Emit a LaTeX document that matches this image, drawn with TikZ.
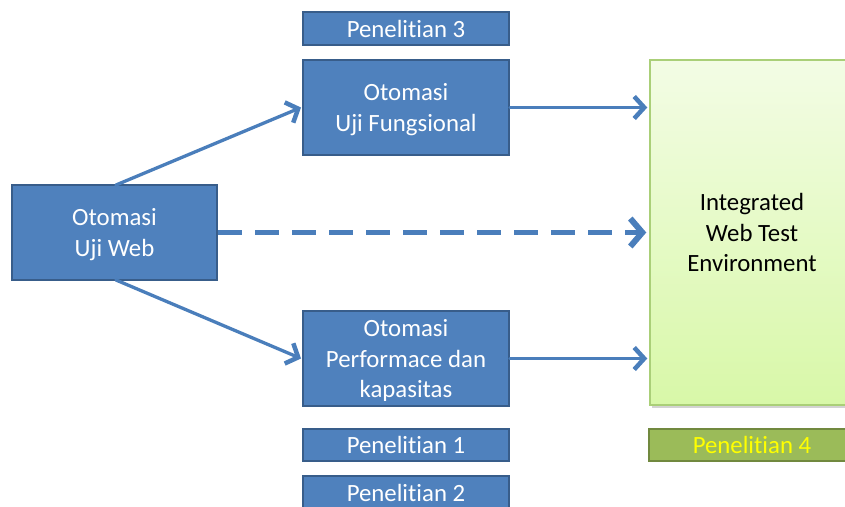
\documentclass[tikz,border=0pt]{standalone}
\usepackage{fontspec}
\setmainfont{Carlito}[RawFeature=-liga]
\usetikzlibrary{arrows.meta,shadows}
\definecolor{boxblue}{HTML}{4F81BD}
\definecolor{boxedge}{HTML}{385D8A}
\definecolor{arrowblue}{HTML}{4A7EBB}
\definecolor{envtop}{HTML}{F3FCE5}
\definecolor{envbot}{HTML}{D8F8A8}
\definecolor{envedge}{HTML}{AACF78}
\definecolor{olive}{HTML}{9BBB59}
\definecolor{oliveedge}{HTML}{71893F}
\tikzset{
  every node/.style={font=\fontsize{24.8}{30.5}\selectfont, align=center, inner sep=0pt},
  bluebox/.style={draw=boxedge, line width=2pt, fill=boxblue, text=white},
  tallbox/.style={bluebox, minimum width=206pt, minimum height=95pt, text depth=0pt},
  flow/.style={draw=arrowblue, line width=3.3pt, line cap=round, line join=round,
    -{Straight Barb[length=10pt,width=22pt,line width=4.5pt]}},
  dashflow/.style={draw=arrowblue, line width=5pt,
    dash pattern=on 24pt off 13pt,
    -{Straight Barb[length=12pt,width=28pt,line width=6pt]}}
}
\begin{document}
\begin{tikzpicture}[x=1pt,y=-1pt]
\useasboundingbox (0,0) rectangle (845,506);
\begin{scope}
\clip (0,0) rectangle (845,506);
% research boxes
\node[bluebox, minimum width=206pt, minimum height=33pt] (p3) at (406,28.5) {Penelitian 3};
\node[tallbox] (fung) at (406,107.5) {Otomasi\\Uji Fungsional};
\node[tallbox, minimum width=205pt] (web) at (114.5,232.5) {Otomasi\\Uji Web};
\node[tallbox] (perf) at (406,358.5) {Otomasi\\Performace dan\\kapasitas};
\node[bluebox, minimum width=206pt, minimum height=32pt] (p1) at (406,445) {Penelitian 1};
\node[bluebox, minimum width=206pt, minimum height=33pt] (p2) at (406,492.5) {Penelitian 2};
% integrated environment
\node[draw=envedge, line width=1.5pt, top color=envtop, bottom color=envbot,
      minimum width=204pt, minimum height=345pt, text depth=0pt,
      drop shadow={shadow xshift=2pt, shadow yshift=-3pt, opacity=0.35}] (env) at (752,232.5)
      {Integrated\\Web Test\\Environment};
\node[draw=oliveedge, line width=2.5pt, fill=olive, text={rgb,255:red,255;green,255;blue,0},
      minimum width=206pt, minimum height=32pt] (p4) at (752,445) {Penelitian 4};
% connectors
\coordinate (webtop) at (116,185);
\coordinate (webbot) at (116,280);
\draw[flow] (webtop) -- ([xshift=-1pt]fung.west);
\draw[flow] (webbot) -- ([xshift=-1pt]perf.west);
\draw[flow] (fung.east) -- ([xshift=-2pt]env.west |- fung.east);
\draw[flow] (perf.east) -- ([xshift=-2pt]env.west |- perf.east);
\draw[dashflow] (web.east) -- ([xshift=-3pt]env.west);
\end{scope}
\end{tikzpicture}
\end{document}
